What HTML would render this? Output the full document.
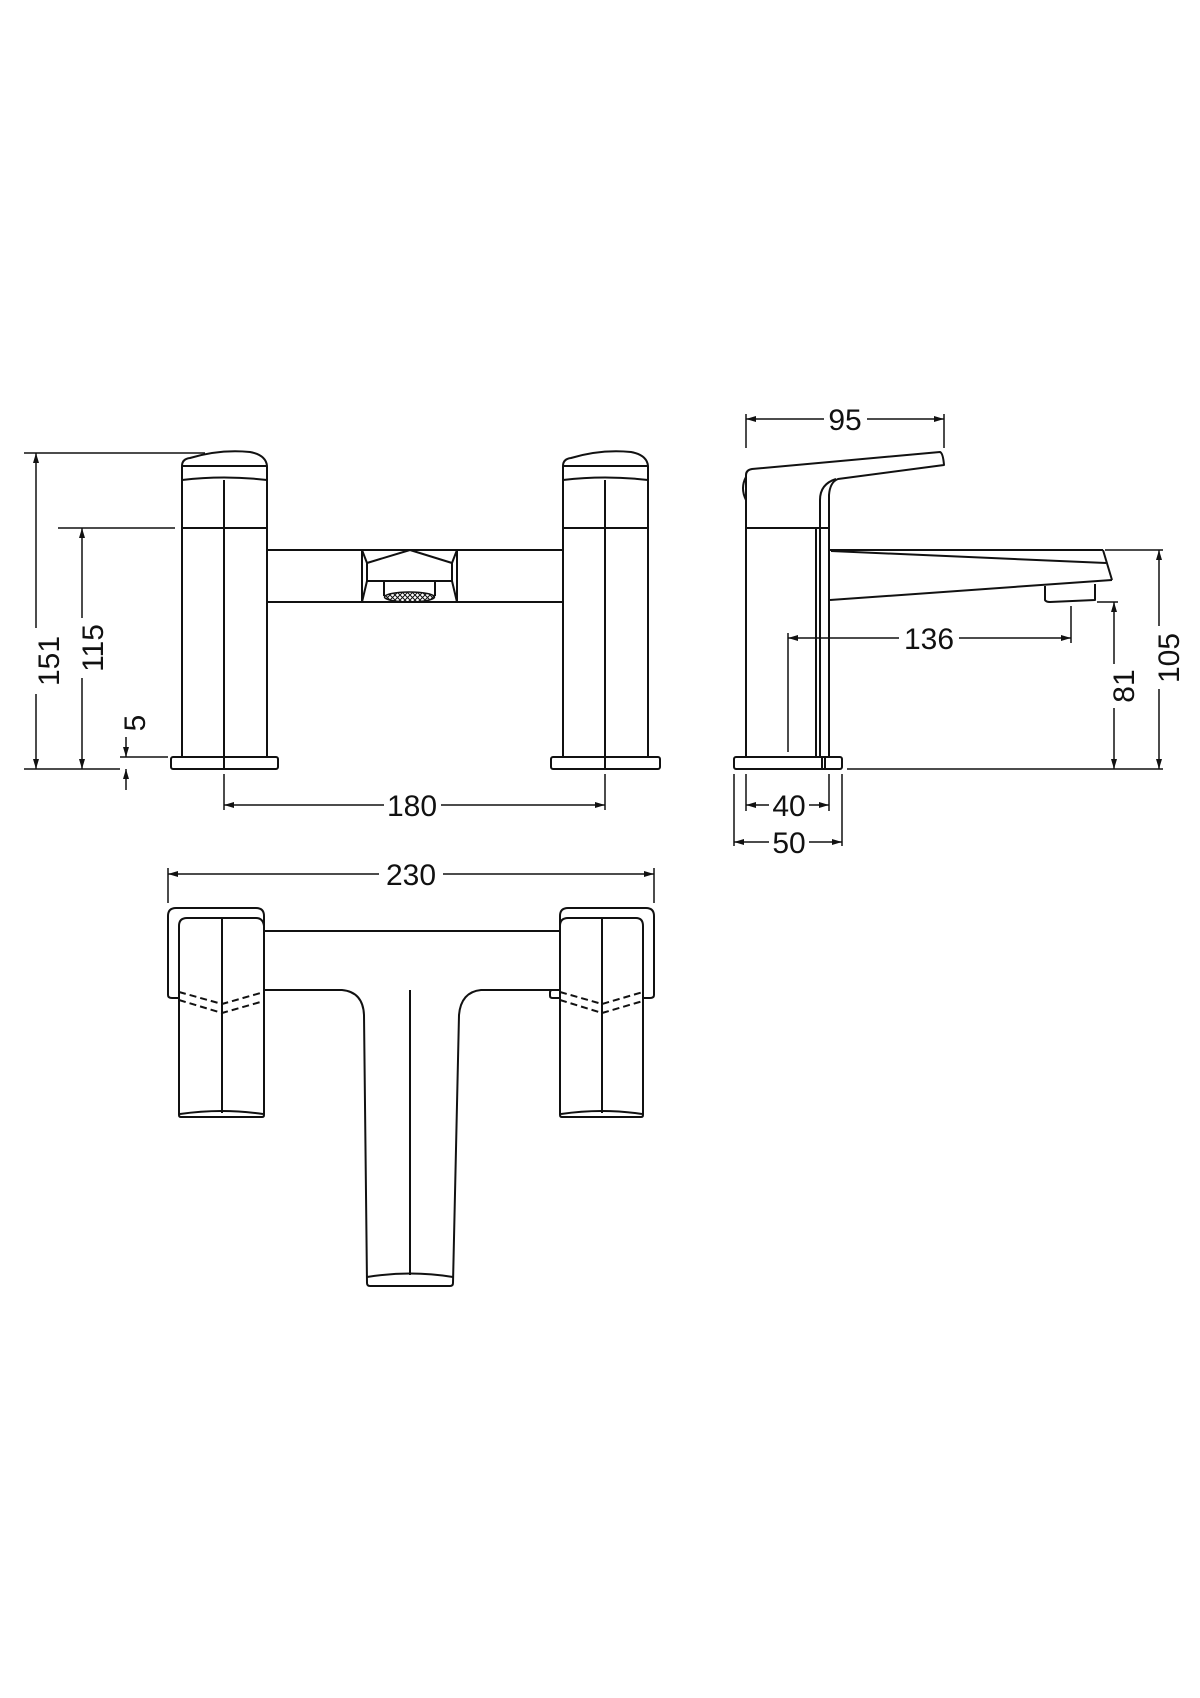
<!DOCTYPE html>
<html><head><meta charset="utf-8"><style>
html,body{margin:0;padding:0;background:#fff;}
svg{display:block;}
text{font-family:"Liberation Sans",sans-serif;font-size:30px;fill:#111;}
</style></head><body>
<svg width="1200" height="1698" viewBox="0 0 1200 1698" xmlns="http://www.w3.org/2000/svg">
<defs>
<marker id="a" viewBox="0 0 10 6" refX="10" refY="3" markerWidth="10" markerHeight="6" orient="auto-start-reverse" markerUnits="userSpaceOnUse"><path d="M0,0 L10,3 L0,6 Z" fill="#111"/></marker>
<pattern id="hatch" width="5" height="5" patternUnits="userSpaceOnUse"><path d="M0,0 L5,5 M5,0 L0,5" stroke="#111" stroke-width="1"/></pattern>
</defs>
<g fill="none" stroke="#111" stroke-width="2" stroke-linejoin="round">

<!-- ===== FRONT VIEW ===== -->
<path d="M182,757 V466 Q182,459 190,458 Q220,449 250,452 Q266,455 267,466 V757"/>
<line x1="182" y1="466" x2="267" y2="466"/>
<path d="M182,480 Q224,475 267,480"/>
<line x1="182" y1="528" x2="267" y2="528"/>
<line x1="224" y1="480" x2="224" y2="757"/>
<rect x="171" y="757" width="107" height="12" rx="2"/>
<line x1="224" y1="757" x2="224" y2="769"/>
<path d="M563,757 V466 Q563,459 571,458 Q601,449 631,452 Q647,455 648,466 V757"/>
<line x1="563" y1="466" x2="648" y2="466"/>
<path d="M563,480 Q605,475 648,480"/>
<line x1="563" y1="528" x2="648" y2="528"/>
<line x1="605" y1="480" x2="605" y2="757"/>
<rect x="551" y="757" width="109" height="12" rx="2"/>
<line x1="605" y1="757" x2="605" y2="769"/>
<line x1="267" y1="550" x2="563" y2="550"/>
<line x1="267" y1="602" x2="563" y2="602"/>
<line x1="362" y1="550" x2="362" y2="602"/>
<line x1="457" y1="550" x2="457" y2="602"/>
<path d="M362,550 L367,563 L410,550 L452,563 L457,550"/>
<line x1="367" y1="563" x2="367" y2="581"/>
<line x1="452" y1="563" x2="452" y2="581"/>
<line x1="367" y1="581" x2="452" y2="581"/>
<line x1="367" y1="581" x2="362" y2="602"/>
<line x1="452" y1="581" x2="457" y2="602"/>
<path d="M384,581 V596 M435,581 V596"/>
<ellipse cx="409.5" cy="597" rx="25" ry="5" fill="url(#hatch)" stroke-width="1.5"/>

<line x1="24" y1="453" x2="205" y2="453" stroke-width="1.5"/>
<line x1="24" y1="769" x2="120" y2="769" stroke-width="1.5"/>
<line x1="36" y1="453" x2="36" y2="628" stroke-width="1.5" marker-start="url(#a)"/>
<line x1="36" y1="694" x2="36" y2="769" stroke-width="1.5" marker-end="url(#a)"/>
<line x1="58" y1="528" x2="175" y2="528" stroke-width="1.5"/>
<line x1="82" y1="528" x2="82" y2="618" stroke-width="1.5" marker-start="url(#a)"/>
<line x1="82" y1="678" x2="82" y2="769" stroke-width="1.5" marker-end="url(#a)"/>
<line x1="120" y1="757" x2="168" y2="757" stroke-width="1.5"/>
<line x1="126" y1="737" x2="126" y2="757" stroke-width="1.5" marker-end="url(#a)"/>
<line x1="126" y1="769" x2="126" y2="790" stroke-width="1.5" marker-start="url(#a)"/>
<line x1="224" y1="774" x2="224" y2="810" stroke-width="1.5"/>
<line x1="605" y1="774" x2="605" y2="810" stroke-width="1.5"/>
<line x1="224" y1="805" x2="384" y2="805" stroke-width="1.5" marker-start="url(#a)"/>
<line x1="441" y1="805" x2="605" y2="805" stroke-width="1.5" marker-end="url(#a)"/>

<!-- ===== SIDE VIEW ===== -->
<path d="M746,757 V475 Q746,470 752,469 L940,452 Q943,453 944,465 L838,479 Q830,482 829,495 V757"/>
<path d="M820,757 V500 Q820,484 836,479"/>
<line x1="816" y1="528" x2="816" y2="757"/>
<line x1="746" y1="528" x2="829" y2="528"/>
<path d="M746,477 Q740,488 746,500"/>
<line x1="830" y1="550" x2="1103" y2="550"/>
<line x1="831" y1="551" x2="1106" y2="563"/>
<line x1="1103" y1="550" x2="1112" y2="580"/>
<line x1="830" y1="600" x2="1112" y2="580"/>
<path d="M1045,586 V600 Q1046,602 1050,602 L1095,600 V584"/>
<rect x="734" y="757" width="108" height="12" rx="2"/>
<line x1="822" y1="757" x2="822" y2="769"/>
<line x1="825" y1="757" x2="825" y2="769"/>
<line x1="847" y1="769" x2="1163" y2="769" stroke-width="1.5"/>
<line x1="746" y1="414" x2="746" y2="448" stroke-width="1.5"/>
<line x1="944" y1="414" x2="944" y2="448" stroke-width="1.5"/>
<line x1="746" y1="419" x2="824" y2="419" stroke-width="1.5" marker-start="url(#a)"/>
<line x1="867" y1="419" x2="944" y2="419" stroke-width="1.5" marker-end="url(#a)"/>
<line x1="1105" y1="550" x2="1163" y2="550" stroke-width="1.5"/>
<line x1="1159" y1="550" x2="1159" y2="626" stroke-width="1.5" marker-start="url(#a)"/>
<line x1="1159" y1="689" x2="1159" y2="769" stroke-width="1.5" marker-end="url(#a)"/>
<line x1="1097" y1="602" x2="1118" y2="602" stroke-width="1.5"/>
<line x1="1114" y1="602" x2="1114" y2="664" stroke-width="1.5" marker-start="url(#a)"/>
<line x1="1114" y1="708" x2="1114" y2="769" stroke-width="1.5" marker-end="url(#a)"/>
<line x1="788" y1="633" x2="788" y2="752" stroke-width="1.5"/>
<line x1="1071" y1="606" x2="1071" y2="643" stroke-width="1.5"/>
<line x1="788" y1="638" x2="899" y2="638" stroke-width="1.5" marker-start="url(#a)"/>
<line x1="959" y1="638" x2="1071" y2="638" stroke-width="1.5" marker-end="url(#a)"/>
<line x1="746" y1="774" x2="746" y2="811" stroke-width="1.5"/>
<line x1="829" y1="774" x2="829" y2="811" stroke-width="1.5"/>
<line x1="734" y1="774" x2="734" y2="846" stroke-width="1.5"/>
<line x1="842" y1="774" x2="842" y2="846" stroke-width="1.5"/>
<line x1="746" y1="805" x2="769" y2="805" stroke-width="1.5" marker-start="url(#a)"/>
<line x1="809" y1="805" x2="829" y2="805" stroke-width="1.5" marker-end="url(#a)"/>
<line x1="734" y1="842" x2="769" y2="842" stroke-width="1.5" marker-start="url(#a)"/>
<line x1="809" y1="842" x2="842" y2="842" stroke-width="1.5" marker-end="url(#a)"/>

<!-- ===== TOP VIEW ===== -->
<line x1="168" y1="868" x2="168" y2="903" stroke-width="1.5"/>
<line x1="654" y1="868" x2="654" y2="903" stroke-width="1.5"/>
<line x1="168" y1="874" x2="379" y2="874" stroke-width="1.5" marker-start="url(#a)"/>
<line x1="443" y1="874" x2="654" y2="874" stroke-width="1.5" marker-end="url(#a)"/>
<path d="M264,931 V916 Q264,908 256,908 H176 Q168,908 168,916 V995 Q168,998 172,998 H179"/>
<path d="M264,991 V998 H264"/>
<path d="M179,1115 V926 Q179,918 187,918 H256 Q263,918 264,926 V1115 Q264,1117 262,1117 H181 Q179,1117 179,1115 Z"/>
<path d="M180,1114 Q222,1108 263,1114"/>
<line x1="222" y1="918" x2="222" y2="1113"/>
<path d="M179,992 L222,1004 L264,992 M179,1000 L222,1013 L264,1001" stroke-dasharray="7,4"/>
<path d="M560,931 V916 Q560,908 568,908 H646 Q654,908 654,916 V995 Q654,998 650,998 H644"/>
<path d="M560,990 H552 Q550,990 550,993 V996 Q550,998 553,998 H560"/>
<path d="M560,1115 V926 Q560,918 568,918 H636 Q643,918 643,926 V1115 Q643,1117 641,1117 H562 Q560,1117 560,1115 Z"/>
<path d="M561,1114 Q602,1108 642,1114"/>
<line x1="602" y1="918" x2="602" y2="1113"/>
<path d="M560,992 L602,1004 L643,992 M560,1000 L602,1013 L643,1001" stroke-dasharray="7,4"/>
<line x1="264" y1="931" x2="560" y2="931"/>
<path d="M264,990 H342 Q363,992 364,1015 L367,1283 Q367,1286 370,1286 H450 Q453,1286 453,1283 L459,1015 Q461,992 481,990 H560"/>
<path d="M367,1277 Q410,1270 453,1277"/>
<line x1="410" y1="990" x2="410" y2="1275"/>
</g>

<g>
<text x="48" y="661" text-anchor="middle" transform="rotate(-90 48 661)" dy="11">151</text>
<text x="92" y="648" text-anchor="middle" transform="rotate(-90 92 648)" dy="11">115</text>
<text x="134" y="723" text-anchor="middle" transform="rotate(-90 134 723)" dy="11">5</text>
<text x="412" y="816" text-anchor="middle">180</text>
<text x="845" y="430" text-anchor="middle">95</text>
<text x="929" y="649" text-anchor="middle">136</text>
<text x="1168" y="658" text-anchor="middle" transform="rotate(-90 1168 658)" dy="11">105</text>
<text x="1123" y="686" text-anchor="middle" transform="rotate(-90 1123 686)" dy="11">81</text>
<text x="789" y="816" text-anchor="middle">40</text>
<text x="789" y="853" text-anchor="middle">50</text>
<text x="411" y="885" text-anchor="middle">230</text>
</g>
</svg>
</body></html>
